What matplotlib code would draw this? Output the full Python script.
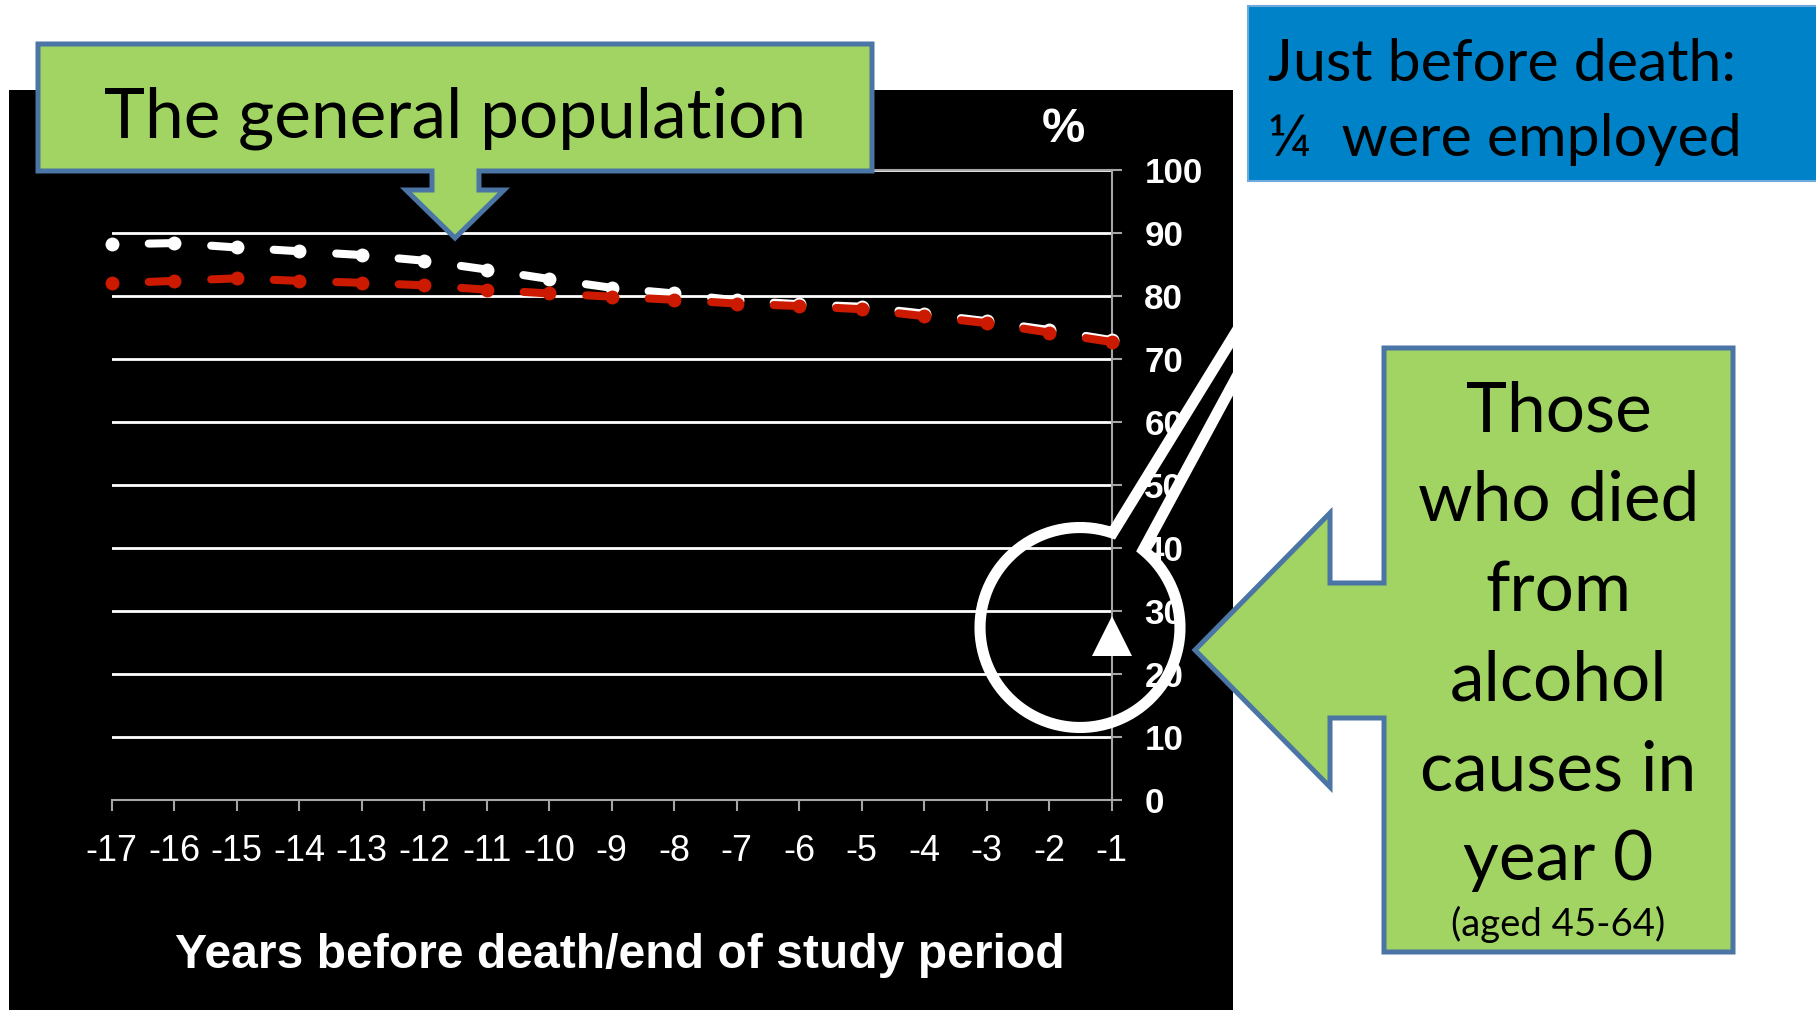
import numpy as np
import matplotlib.pyplot as plt
from matplotlib.patches import Rectangle, Polygon, PathPatch
from matplotlib.path import Path

# employment share (%) in each year before death / end of study period
years = list(range(-17, 0))
general_pop = [88.2, 88.4, 87.7, 87.1, 86.5, 85.6, 84.2, 82.7, 81.3,
               80.4, 79.3, 78.7, 78.3, 77.2, 76.0, 74.6, 73.0]
comparison = [82.0, 82.4, 82.8, 82.4, 82.1, 81.7, 81.0, 80.4, 79.9,
              79.4, 78.8, 78.4, 77.9, 76.8, 75.7, 74.2, 72.7]
alcohol_years = [-1]
alcohol_employed = [26]
y_ticks = list(range(0, 101, 10))
x_labels = [str(y) for y in years]

callout_lines = ['Those', 'who died', 'from', 'alcohol', 'causes in', 'year 0']

W, H = 1816, 1010
GREEN = '#a2d463'
EDGE = '#4a75a5'
RED = '#cc1a00'
AXIS_GREY = '#a6a6a6'
CHART_FONT = 'Liberation Sans'
BOX_FONT = 'Lato'

fig = plt.figure(figsize=(W / 100, H / 100), dpi=100)
fig.patch.set_facecolor('white')

# pixel-coordinate layers behind and in front of the chart
bg = fig.add_axes([0, 0, 1, 1], zorder=0)
fg = fig.add_axes([0, 0, 1, 1], zorder=2)
for layer in (bg, fg):
    layer.set_xlim(0, W)
    layer.set_ylim(H, 0)
    layer.axis('off')

bg.add_patch(Rectangle((9, 90), 1224, 920, facecolor='black', edgecolor='none'))

# chart
ax = fig.add_axes([111.7 / W, 1 - 800 / H, 1000 / W, 630 / H], zorder=1)
ax.patch.set_alpha(0)


def dashed_series(x, y, color):
    # each step starts with a gap and ends in a dash touching the next point
    for i in range(len(x) - 1):
        ax.plot(x[i:i + 2], y[i:i + 2], color=color, lw=5.8,
                ls=(20, (20, 4.6)), dash_capstyle='round', zorder=3,
                clip_on=False)
    ax.plot(x, y, 'o', color=color, ms=10, mew=0, zorder=3, clip_on=False)


dashed_series(years, general_pop, 'white')
dashed_series(years, comparison, RED)
ax.plot(alcohol_years, alcohol_employed, '^', color='white', ms=29.5, mew=0,
        zorder=4, clip_on=False)

ax.set_xlim(-17, -1)
ax.set_ylim(0, 100)
ax.set_xticks(years)
ax.set_xticklabels(x_labels, fontsize=25.8, family=CHART_FONT)
ax.yaxis.tick_right()
ax.set_yticks(y_ticks)
ax.set_yticklabels([str(v) for v in y_ticks], fontsize=25.2,
                   fontweight='bold', family=CHART_FONT)
ax.tick_params(axis='x', colors=AXIS_GREY, labelcolor='white', length=8,
               width=1.5, pad=16.5)
ax.tick_params(axis='y', colors=AXIS_GREY, labelcolor='white', length=7,
               width=1.5, pad=16.5)
ax.grid(axis='y', color='white', lw=2)
ax.spines['left'].set_visible(False)
for side in ('right', 'bottom', 'top'):
    ax.spines[side].set_color(AXIS_GREY)
    ax.spines[side].set_linewidth(1.5)

fg.text(1063, 130, '%', ha='center', va='center', color='white',
        fontsize=35, fontweight='bold', family=CHART_FONT)
fg.text(620, 956, 'Years before death/end of study period', ha='center',
        va='center', color='white', fontsize=34.6, fontweight='bold',
        family=CHART_FONT)

# magnifier ring around the last year
cx, cy, r = 1080, 627.5, 100
theta = np.radians(np.linspace(71, 410.8, 200))
ring = np.column_stack([cx + r * np.cos(theta), cy - r * np.sin(theta)])
p1, p2 = ring[0], ring[-1]
a_end = p1 + 1.3 * (np.array([1233.3, 336.7]) - p1)
b_end = p2 + 1.3 * (np.array([1233.3, 383.3]) - p2)
verts = np.vstack([a_end, ring, b_end])
codes = [Path.MOVETO] + [Path.LINETO] * (len(verts) - 1)
lens = PathPatch(Path(verts, codes), fill=False, edgecolor='white', lw=8,
                 joinstyle='miter', capstyle='butt')
fg.add_patch(lens)
lens.set_clip_path(Rectangle((9, 90), 1224, 920, transform=fg.transData))

# callout for the population curves
top_callout = [(38, 44), (872, 44), (872, 171), (479, 171), (479, 190),
               (504, 190), (455, 238), (406, 190), (432, 190), (432, 171),
               (38, 171)]
fg.add_patch(Polygon(top_callout, closed=True, facecolor=GREEN,
                     edgecolor=EDGE, lw=3.6, joinstyle='miter'))
fg.text(455, 138, 'The general population', ha='center', va='baseline',
        fontsize=50, family=BOX_FONT)

# callout for the alcohol deaths
side_callout = [(1384, 348), (1733, 348), (1733, 952), (1384, 952),
                (1384, 718), (1330, 718), (1330, 787), (1195, 650),
                (1330, 513), (1330, 583), (1384, 583)]
fg.add_patch(Polygon(side_callout, closed=True, facecolor=GREEN,
                     edgecolor=EDGE, lw=3.6, joinstyle='miter'))
for i, line in enumerate(callout_lines):
    fg.text(1558.5, 431 + 89.8 * i, line, ha='center', va='baseline',
            fontsize=50, family=BOX_FONT)
fg.text(1558.5, 936, '(aged 45-64)', ha='center', va='baseline',
        fontsize=27.5, family=BOX_FONT)

# blue note box
fg.add_patch(Rectangle((1248, 6), 600, 175, facecolor='#0082c8',
                       edgecolor='#6fa8dc', lw=1.5))
fg.text(1268, 81, 'Just before death:', ha='left', va='baseline',
        fontsize=42.5, family=BOX_FONT)
fg.text(1268, 156, '\u00bc  were employed', ha='left', va='baseline',
        fontsize=42.5, family=BOX_FONT)

fig.savefig('out.png', dpi=100)
